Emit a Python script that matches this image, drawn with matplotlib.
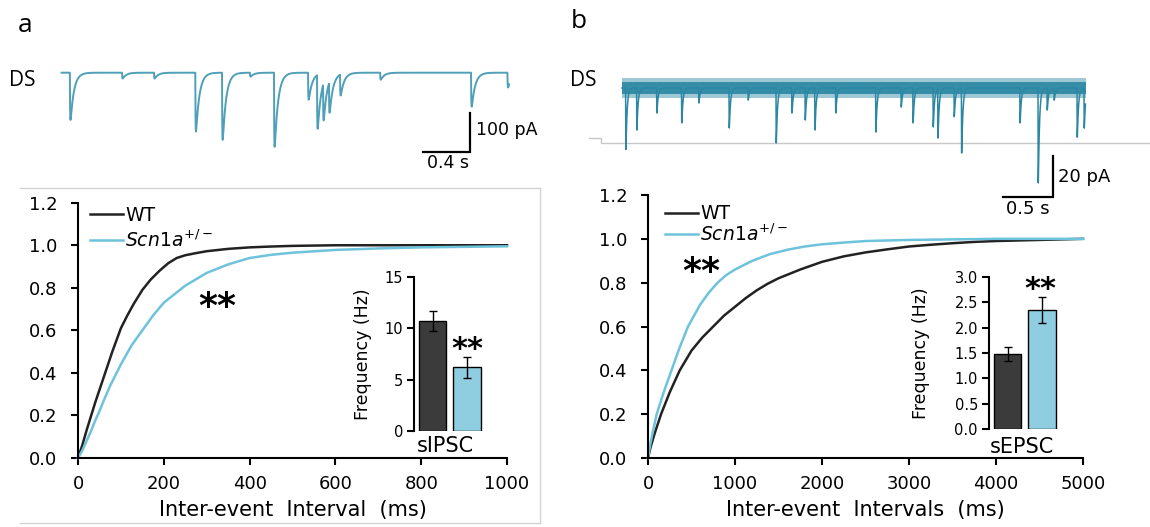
import numpy as np
import matplotlib
matplotlib.use('Agg')
import matplotlib.pyplot as plt
from matplotlib.ticker import FormatStrFormatter
from matplotlib.lines import Line2D

W, H, DPI = 1150, 527, 100
plt.rcParams['font.family'] = ['DejaVu Sans']
plt.rcParams['mathtext.fontset'] = 'dejavusans'

# ---------------- data ----------------
# panel a: cumulative probability of sIPSC inter-event intervals (ms)
a_wt_x = [0, 10, 20, 30, 40, 50, 60, 70, 80, 90, 100, 115, 130, 150, 170, 190, 210, 230, 250,
          275, 300, 350, 400, 450, 500, 600, 1000]
a_wt_y = [0, 0.06, 0.13, 0.195, 0.26, 0.32, 0.38, 0.44, 0.50, 0.555, 0.61, 0.67, 0.725, 0.79,
          0.84, 0.88, 0.915, 0.94, 0.953, 0.963, 0.972, 0.983, 0.99, 0.994, 0.997, 1.0, 1.0]
a_scn_x = [0, 10, 20, 30, 40, 50, 60, 75, 90, 100, 125, 150, 175, 200, 225, 250, 275, 300,
           350, 400, 450, 500, 600, 700, 800, 1000]
a_scn_y = [0, 0.035, 0.08, 0.125, 0.175, 0.22, 0.27, 0.34, 0.40, 0.44, 0.53, 0.60, 0.67, 0.73,
           0.77, 0.81, 0.84, 0.87, 0.91, 0.94, 0.955, 0.965, 0.978, 0.985, 0.99, 0.995]
# panel b: cumulative probability of sEPSC inter-event intervals (ms)
b_wt_x = [0, 30, 75, 150, 250, 365, 500, 625, 750, 875, 1000, 1125, 1250, 1375, 1500, 1750,
          2000, 2250, 2500, 2750, 3000, 3250, 3500, 3750, 4000, 4500, 5000]
b_wt_y = [0, 0.05, 0.11, 0.20, 0.30, 0.40, 0.49, 0.55, 0.60, 0.65, 0.69, 0.73, 0.765, 0.795,
          0.82, 0.86, 0.895, 0.92, 0.938, 0.952, 0.965, 0.973, 0.98, 0.986, 0.99, 0.995, 1.0]
b_scn_x = [0, 25, 50, 100, 180, 270, 360, 460, 530, 600, 700, 800, 900, 1000, 1100, 1200, 1400,
           1600, 1800, 2000, 2250, 2500, 3000, 4000, 5000]
b_scn_y = [0, 0.06, 0.11, 0.20, 0.30, 0.40, 0.50, 0.60, 0.65, 0.70, 0.755, 0.80, 0.835, 0.86,
           0.88, 0.90, 0.93, 0.95, 0.965, 0.975, 0.983, 0.99, 0.995, 1.0, 1.0]

main_yticks = [0.0, 0.2, 0.4, 0.6, 0.8, 1.0, 1.2]
a_xticks = [0, 200, 400, 600, 800, 1000]
b_xticks = [0, 1000, 2000, 3000, 4000, 5000]

groups = ['WT', r'$\mathit{Scn1a}^{+/-}$']
# insets: mean frequency (Hz) +/- SEM
a_freq = [10.7, 6.2]
a_sem = [0.95, 1.05]
b_freq = [1.48, 2.35]
b_sem = [0.13, 0.265]
a_inset_yticks = [0, 5, 10, 15]
b_inset_yticks = [0.0, 0.5, 1.0, 1.5, 2.0, 2.5, 3.0]

# example traces: event onset times (s) and amplitudes (pA, inward)
a_trace_dur = 3.85
a_ev_t = [0.071, 0.52, 0.795, 1.150, 1.380, 1.62, 1.827, 2.12, 2.197, 2.249, 2.30, 2.395, 2.74, 3.522, 3.835]
a_ev_amp = [121, 15, 15, 151, 172, 10, 190, 69, 138, 95, 79, 54, 18, 87, 38]
b_trace_dur = 4.635
b_ev_t = [0.036, 0.146, 0.346, 0.595, 0.766, 1.07, 1.26, 1.54, 1.697, 1.83, 1.927, 2.135, 2.536,
          2.79, 2.908, 3.11, 3.157, 3.32, 3.394, 3.978, 4.16, 4.25, 4.32, 4.55, 4.62]
b_ev_amp = [30, 20.5, 12.2, 17, 7.3, 19.5, 5.9, 26.8, 12.2, 15.6, 20.5, 12.2, 21.5,
            9.3, 17, 19, 24, 14, 31.7, 17, 46.3, 10.7, 5.9, 24, 19.5]
b_noise_outer_pA = 5.0
b_noise_inner_pA = 2.8
b_gray_t = [-0.33, -0.21, -0.21, 5.28]
b_gray_i = [-24.4, -24.4, -26.8, -26.8]

# ---------------- colours ----------------
C_WT = '#222222'
C_SCN = '#6ec3dc'
C_BAR_WT = '#3b3b3b'
C_BAR_SCN = '#8fcde0'
C_TRACE_A = '#4f9fb8'
C_TRACE_B = '#2b87a2'

fig = plt.figure(figsize=(W / DPI, H / DPI), dpi=DPI)


def px_axes(x0, y0, x1, y1):
    return fig.add_axes([x0 / W, 1 - y1 / H, (x1 - x0) / W, (y1 - y0) / H])


# light frame around panel a plot
for xs, ys in [([20, 540], [188, 188]), ([540, 540], [188, 523]), ([20, 540], [523, 523])]:
    fig.add_artist(Line2D([x / W for x in xs], [1 - y / H for y in ys], color='#d4d4d4', lw=1.0))


def style_main(ax, xticks):
    for s in ['top', 'right']:
        ax.spines[s].set_visible(False)
    for s in ['left', 'bottom']:
        ax.spines[s].set_linewidth(1.5)
    ax.set_xlim(xticks[0], xticks[-1])
    ax.set_ylim(main_yticks[0], main_yticks[-1])
    ax.set_xticks(xticks)
    ax.set_yticks(main_yticks)
    ax.yaxis.set_major_formatter(FormatStrFormatter('%.1f'))
    ax.tick_params(axis='both', direction='out', length=5, width=1.5, labelsize=13)
    ax.tick_params(axis='y', pad=10)
    ax.tick_params(axis='x', pad=7)


def style_inset(ax, yticks, fmt):
    for s in ['top', 'right', 'bottom']:
        ax.spines[s].set_visible(False)
    ax.spines['left'].set_linewidth(1.5)
    ax.set_xlim(0, 1)
    ax.set_ylim(yticks[0], yticks[-1])
    ax.set_yticks(yticks)
    ax.yaxis.set_major_formatter(FormatStrFormatter(fmt))
    ax.set_xticks([])
    ax.tick_params(axis='y', direction='out', length=5, width=1.5, labelsize=10.5, pad=3)
    ax.patch.set_alpha(0)


def kernel_trace(t, ev_t, ev_amp, tr, td):
    y = np.zeros_like(t)
    tt = np.linspace(0, 10 * td, 2000)
    kmax = ((1 - np.exp(-tt / tr)) * np.exp(-tt / td)).max()
    for t0, A in zip(ev_t, ev_amp):
        s = t - t0
        m = s > 0
        y[m] -= A * (1 - np.exp(-s[m] / tr)) * np.exp(-s[m] / td) / kmax
    return y


# ---------------- panel a ----------------
axA = px_axes(78, 202.7, 507, 458)
style_main(axA, a_xticks)
axA.plot(a_wt_x, a_wt_y, color=C_WT, lw=1.8, label=groups[0], clip_on=False)
axA.plot(a_scn_x, a_scn_y, color=C_SCN, lw=1.8, label=groups[1], clip_on=False)
axA.set_xlabel('Inter-event  Interval  (ms)', fontsize=15, labelpad=5)
axA.legend(loc='upper left', bbox_to_anchor=(-0.002, 1.04), frameon=False, fontsize=13.5,
           handlelength=1.75, handletextpad=0.1, labelspacing=0.25, borderpad=0.2)
axA.text(324, 0.71, '**', fontsize=26, fontweight='bold', ha='center', va='center')

insA = px_axes(414, 277, 483, 431)
style_inset(insA, a_inset_yticks, '%d')
insA.bar([0.27, 0.77], a_freq, width=0.40, color=[C_BAR_WT, C_BAR_SCN], edgecolor='black', lw=1.0)
insA.errorbar([0.27, 0.77], a_freq, yerr=a_sem, fmt='none', ecolor='black', elinewidth=1.0, capsize=3)
insA.set_ylabel('Frequency (Hz)', fontsize=12.5)
insA.yaxis.set_label_coords(-0.61, 0.5)
insA.set_xlabel('sIPSC', fontsize=15, va='top')
insA.xaxis.set_label_coords(0.45, -0.03)
insA.text(0.77, 7.9, '**', fontsize=22, fontweight='bold', ha='center', va='center')

# ---------------- panel b ----------------
axB = px_axes(648, 195, 1083, 458)
style_main(axB, b_xticks)
axB.plot(b_wt_x, b_wt_y, color=C_WT, lw=1.8, label=groups[0], clip_on=False)
axB.plot(b_scn_x, b_scn_y, color=C_SCN, lw=1.8, label=groups[1], clip_on=False)
axB.set_xlabel('Inter-event  Intervals  (ms)', fontsize=15, labelpad=5)
axB.legend(loc='upper left', bbox_to_anchor=(0.01, 1.015), frameon=False, fontsize=13.5,
           handlelength=1.75, handletextpad=0.1, labelspacing=0.02, borderpad=0.2)
axB.text(609, 0.85, '**', fontsize=26, fontweight='bold', ha='center', va='center')

insB = px_axes(989, 277, 1058, 429)
style_inset(insB, b_inset_yticks, '%.1f')
insB.bar([0.27, 0.77], b_freq, width=0.40, color=[C_BAR_WT, C_BAR_SCN], edgecolor='black', lw=1.0)
insB.errorbar([0.27, 0.77], b_freq, yerr=b_sem, fmt='none', ecolor='black', elinewidth=1.0, capsize=3)
insB.set_ylabel('Frequency (Hz)', fontsize=12.5)
insB.yaxis.set_label_coords(-0.86, 0.5)
insB.set_xlabel('sEPSC', fontsize=15, va='top')
insB.xaxis.set_label_coords(0.48, -0.05)
insB.text(0.75, 2.75, '**', fontsize=22, fontweight='bold', ha='center', va='center')

# ---------------- traces ----------------
# trace a: 0.4 s = 46.5 px, 100 pA = 39 px
sxA, syA, t0A, bA = 46.5 / 0.4, 39 / 100, 61.6, 72.7
trA = px_axes(40, 40, 560, 190)
trA.set_xlim((40 - t0A) / sxA, (560 - t0A) / sxA)
trA.set_ylim(-(190 - bA) / syA, (bA - 40) / syA)
trA.axis('off')
tA = np.arange(0, a_trace_dur, 0.0005)
trA.plot(tA, kernel_trace(tA, a_ev_t, a_ev_amp, 0.002, 0.03), color=C_TRACE_A, lw=1.4)
cx, cy = (469.5 - t0A) / sxA, -(152 - bA) / syA
trA.plot([cx - 0.4, cx, cx], [cy, cy, cy + 100], color='black', lw=1.6, solid_joinstyle='miter')
trA.annotate('100 pA', (cx, cy + 57), xytext=(6, 0), textcoords='offset pixels',
             fontsize=12.5, ha='left', va='center')
trA.annotate('0.4 s', (cx - 0.2, cy), xytext=(2, -11), textcoords='offset pixels',
             fontsize=12.5, ha='center', va='center')

# trace b: 0.5 s = 50 px, 20 pA = 41 px
sxB, syB, t0B, bB = 50 / 0.5, 41 / 20, 622, 88
trB = px_axes(560, 40, 1150, 215)
trB.set_xlim((560 - t0B) / sxB, (1150 - t0B) / sxB)
trB.set_ylim(-(215 - bB) / syB, (bB - 40) / syB)
trB.axis('off')
tB = np.arange(0, b_trace_dur, 0.0005)
trB.plot(b_gray_t, b_gray_i, color='#c8c8c8', lw=1.0)
trB.fill_between([0, b_trace_dur], [-b_noise_outer_pA] * 2, [b_noise_outer_pA] * 2,
                 color=C_TRACE_B, alpha=0.45, lw=0)
trB.fill_between([0, b_trace_dur], [-b_noise_inner_pA] * 2, [b_noise_inner_pA] * 2,
                 color=C_TRACE_B, alpha=0.9, lw=0)
trB.plot(tB, kernel_trace(tB, b_ev_t, b_ev_amp, 0.001, 0.012), color=C_TRACE_B, lw=1.1)
cx, cy = (1053 - t0B) / sxB, -(197 - bB) / syB
trB.plot([cx - 0.5, cx, cx], [cy, cy, cy + 20], color='black', lw=1.6, solid_joinstyle='miter')
trB.annotate('20 pA', (cx, cy + 10), xytext=(5, 0), textcoords='offset pixels',
             fontsize=13, ha='left', va='center')
trB.annotate('0.5 s', (cx - 0.25, cy), xytext=(0, -12), textcoords='offset pixels',
             fontsize=13, ha='center', va='center')

# panel letters and region labels
fig.text(25 / W, 1 - 25 / H, 'a', fontsize=19, family='Open Sans', ha='center', va='center')
fig.text(579 / W, 1 - 22 / H, 'b', fontsize=19, family='Open Sans', ha='center', va='center')
fig.text(22 / W, 1 - 80 / H, 'DS', fontsize=15, family='Open Sans', ha='center', va='center')
fig.text(583 / W, 1 - 81 / H, 'DS', fontsize=15, family='Open Sans', ha='center', va='center')

fig.savefig('out.png', dpi=DPI)
